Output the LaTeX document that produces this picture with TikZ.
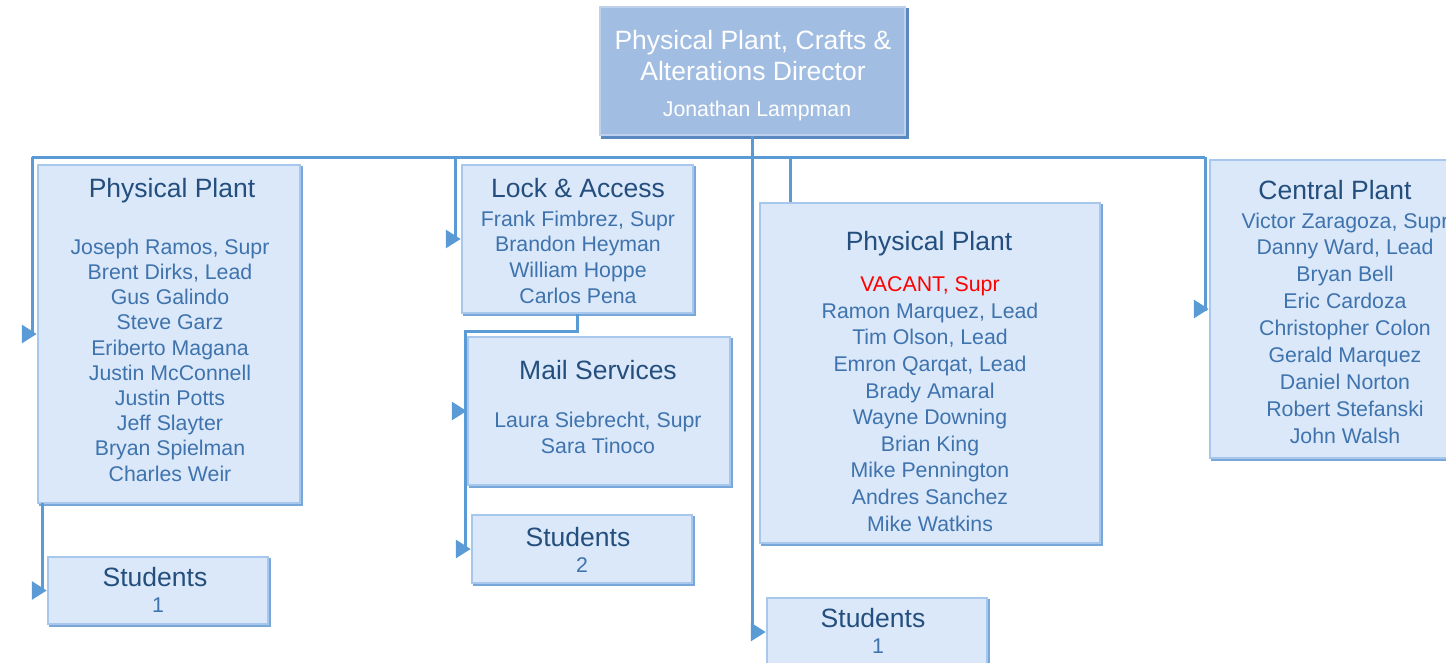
\documentclass[tikz,border=0pt]{standalone}
\usepackage{fontspec}
\setmainfont{Liberation Sans}
\usetikzlibrary{arrows.meta}
\definecolor{conn}{HTML}{5B9BD5}
\definecolor{topfill}{HTML}{A2BDE2}
\definecolor{topdark}{HTML}{5A89C0}
\definecolor{toplight}{HTML}{BDD1EC}
\definecolor{subfill}{HTML}{DAE8F9}
\definecolor{subdark}{HTML}{79A7DA}
\definecolor{sublight}{HTML}{A8C7EC}
\definecolor{titlecol}{HTML}{234E7D}
\definecolor{namecol}{HTML}{3F73AD}
\tikzset{
  topbox/.style={fill=topfill, draw=toplight, line width=2.5pt, inner sep=0pt,
    append after command={\pgfextra{\draw[topdark, line width=4.5pt]
      ([yshift=-2pt]\tikzlastnode.north east) -- (\tikzlastnode.south east) -- ([xshift=2pt]\tikzlastnode.south west);}}},
  subbox/.style={fill=subfill, draw=sublight, line width=2.5pt, inner sep=0pt,
    append after command={\pgfextra{\draw[subdark, line width=3.5pt]
      ([yshift=-2pt]\tikzlastnode.north east) -- (\tikzlastnode.south east) -- ([xshift=2pt]\tikzlastnode.south west);}}},
  conline/.style={draw=conn, line width=3pt},
  arr/.style={draw=conn, line width=3pt, -{Triangle[length=15pt,width=18pt]}},
  ttl/.style={font=\fontsize{26.5}{31}\selectfont, text=titlecol, inner sep=0pt, text height=19pt, text depth=5pt},
  names/.style={font=\fontsize{21.3}{#1}\selectfont, text=namecol, inner sep=0pt, align=center},
  toptext/.style={font=\fontsize{26.5}{31}\selectfont, text=white, inner sep=0pt, align=center},
}
\begin{document}
\begin{tikzpicture}[x=1pt,y=-1pt]
\useasboundingbox (0,0) rectangle (1446,662);
% boxes
\node[topbox, minimum width=305, minimum height=128] (top) at (752.5,71) {};
\node[subbox, minimum width=262, minimum height=338] (pp1) at (169,334) {};
\node[subbox, minimum width=220, minimum height=67] (st1) at (158,590.5) {};
\node[subbox, minimum width=231, minimum height=148] (la) at (577.5,239) {};
\node[subbox, minimum width=262, minimum height=148] (mail) at (599,411) {};
\node[subbox, minimum width=220, minimum height=68] (st2) at (582,549) {};
\node[subbox, minimum width=340, minimum height=340] (pp2) at (930,373) {};
\node[subbox, minimum width=220, minimum height=68] (st3) at (877,632) {};
\node[subbox, minimum width=260, minimum height=298] (cp) at (1340,309) {};
% texts
\node[toptext] (toptitle) at (753,55.5) {Physical Plant, Crafts \&\\Alterations Director};
\node[font=\fontsize{21.3}{25}\selectfont, text=white, inner sep=0pt] (topname) at (757,110.5) {Jonathan Lampman};
\node[ttl] (pp1t) at (172,190) {Physical Plant};
\node[names=25.2] (pp1n) at (170,360) {Joseph Ramos, Supr\\Brent Dirks, Lead\\Gus Galindo\\Steve Garz\\Eriberto Magana\\Justin McConnell\\Justin Potts\\Jeff Slayter\\Bryan Spielman\\Charles Weir};
\node[ttl] (st1t) at (155,579) {Students};
\node[names=24] (st1n) at (158,605) {1};
\node[ttl] (lat) at (578,190) {Lock \& Access};
\node[names=25.7] (lan) at (578,257) {Frank Fimbrez, Supr\\Brandon Heyman\\William Hoppe\\Carlos Pena};
\node[ttl] (mailt) at (598,372) {Mail Services};
\node[names=26] (mailn) at (598,433) {Laura Siebrecht, Supr\\Sara Tinoco};
\node[ttl] (st2t) at (578,539) {Students};
\node[names=24] (st2n) at (582,565) {2};
\node[ttl] (pp2t) at (929,243) {Physical Plant};
\node[names=26.6] (pp2n) at (930,404) {\textcolor{red}{VACANT, Supr}\\Ramon Marquez, Lead\\Tim Olson, Lead\\Emron Qarqat, Lead\\Brady Amaral\\Wayne Downing\\Brian King\\Mike Pennington\\Andres Sanchez\\Mike Watkins};
\node[ttl] (st3t) at (873,620) {Students};
\node[names=24] (st3n) at (878,646) {1};
\node[ttl] (cpt) at (1335,192) {Central Plant};
\node[names=26.9] (cpn) at (1345,328) {Victor Zaragoza, Supr\\Danny Ward, Lead\\Bryan Bell\\Eric Cardoza\\Christopher Colon\\Gerald Marquez\\Daniel Norton\\Robert Stefanski\\John Walsh};
% connectors
\coordinate (busL) at (32,157);
\coordinate (busR) at (1205,157);
\coordinate (busM) at (top.south |- busL);
\draw[conline] (top.south) -- (busM);
\draw[conline] (busL) -- (busR);
\draw[conline] (busL) |- ([xshift=-8pt]pp1.west);
\draw[arr] ([xshift=-15pt]pp1.west) -- (pp1.west);
\coordinate (pp1b) at (42,503);
\draw[conline] (pp1b) |- ([xshift=-8pt]st1.west);
\draw[arr] ([xshift=-15pt]st1.west) -- (st1.west);
\coordinate (laTop) at (455,157);
\draw[conline] (laTop) |- ([xshift=-8pt]la.west);
\draw[arr] ([xshift=-15pt]la.west) -- (la.west);
\coordinate (laJ) at (465,331);
\draw[conline] (la.south) |- (laJ) |- ([xshift=-8pt]st2.west);
\draw[arr] ([xshift=-15pt]mail.west) -- (mail.west);
\draw[arr] ([xshift=-15pt]st2.west) -- (st2.west);
\coordinate (pp2Top) at (790,157);
\draw[conline] (pp2Top) -- (pp2Top |- pp2.north);
\draw[conline] (busM) |- ([xshift=-8pt]st3.west);
\draw[arr] ([xshift=-15pt]st3.west) -- (st3.west);
\draw[conline] (busR) |- ([xshift=-8pt]cp.west);
\draw[arr] ([xshift=-15pt]cp.west) -- (cp.west);
\end{tikzpicture}
\end{document}
